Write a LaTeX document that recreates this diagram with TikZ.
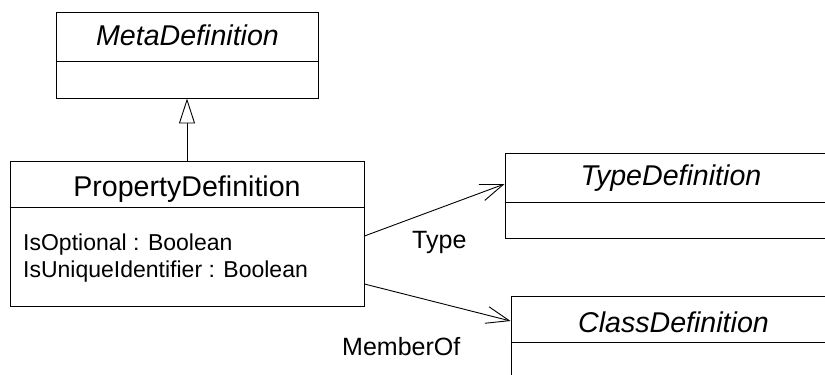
\documentclass[tikz,border=0pt]{standalone}
\usepackage{fontspec}
\setmainfont{Liberation Sans}
\usetikzlibrary{arrows.meta}

\tikzset{
  classbox/.style={draw=black, line width=0.9pt, rectangle, inner sep=0pt, fill=white},
  divider/.style={draw=black, line width=0.9pt},
  titletext/.style={inner sep=0pt, anchor=base, font=\fontsize{28.6}{34}\selectfont},
  attrtext/.style={inner sep=0pt, anchor=base west, font=\fontsize{23}{27}\selectfont},
  roletext/.style={inner sep=0pt, anchor=base west, font=\fontsize{25}{29}\selectfont},
  generalization/.style={draw=black, line width=0.9pt,
    -{Triangle[open, length=25pt, width=16pt, fill=white]}},
  association/.style={draw=black, line width=0.9pt,
    -{Straight Barb[length=23pt, width=17pt]}}
}

\begin{document}
\begin{tikzpicture}[x=1pt, y=-1pt]
  \useasboundingbox (0,0) rectangle (825,375);
  \clip (0,0) rectangle (825,375);

  % MetaDefinition
  \node[classbox, minimum width=262pt, minimum height=86pt] (meta) at (187,55) {};
  \node[titletext] (metaT) at (187.5,45.7) {\itshape MetaDefinition};
  \draw[divider] (meta.west |- 0,61) -- (meta.east |- 0,61);

  % PropertyDefinition
  \node[classbox, minimum width=354pt, minimum height=145pt] (prop) at (187,233.5) {};
  \node[titletext] (propT) at (187,196.7) {PropertyDefinition};
  \draw[divider] (prop.west |- 0,207) -- (prop.east |- 0,207);
  \node[attrtext] (attr1) at (23,250.7) {IsOptional : Boolean};
  \node[attrtext] (attr2) at (23,277.3) {IsUniqueIdentifier : Boolean};

  % TypeDefinition
  \node[classbox, minimum width=332pt, minimum height=85pt] (typedef) at (671,195.5) {};
  \node[titletext] (typeT) at (671,185) {\itshape TypeDefinition};
  \draw[divider] (typedef.west |- 0,202) -- (typedef.east |- 0,202);

  % ClassDefinition
  \node[classbox, minimum width=326pt, minimum height=120pt] (classdef) at (674,356) {};
  \node[titletext] (classT) at (673.5,332) {\itshape ClassDefinition};
  \draw[divider] (classdef.west |- 0,342) -- (classdef.east |- 0,342);

  % Connectors
  \draw[generalization] (prop.north) -- (meta.south);
  \draw[association] (prop.east |- 0,236) -- (typedef.west |- 0,184);
  \draw[association] (prop.east |- 0,284) -- (classdef.west |- 0,321);

  % Role names
  \node[roletext] (typeL) at (412,248) {Type};
  \node[roletext] (memberL) at (342,355) {MemberOf};
\end{tikzpicture}
\end{document}
